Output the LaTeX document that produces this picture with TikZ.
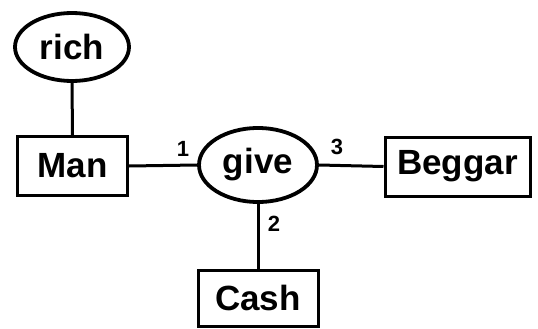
\documentclass[tikz,border=0pt]{standalone}
\usepackage{fontspec}
\setmainfont{Liberation Sans}
\usetikzlibrary{shapes.geometric}
\begin{document}
\begin{tikzpicture}[x=1pt,y=-1pt,
  concept/.style={draw,line width=3pt,inner sep=0pt,font=\fontsize{35}{38}\selectfont\bfseries},
  entity/.style={concept,rectangle},
  relation/.style={concept,ellipse,line width=3.8pt},
  link/.style={line width=3pt},
  num/.style={inner sep=0pt,font=\fontsize{22}{24}\selectfont\bfseries}]
\useasboundingbox (0,0) rectangle (538,329);
\node[relation,minimum width=114,minimum height=68] (rich) at (72,47) {rich};
\node[entity,minimum width=110,minimum height=59] (man) at (72.5,166) {Man};
\node[relation,minimum width=118,minimum height=74] (give) at (258,165) {give};
\node[entity,minimum width=145,minimum height=59] (beggar) at (457.5,166.5) {Beggar};
\node[entity,minimum width=120,minimum height=56] (cash) at (258,298) {Cash};
\draw[link] (rich.south) -- (man.north);
\draw[link] (man.east) -- (give.west);
\draw[link] (give.east) -- (beggar.west);
\draw[link] (give.south) -- (cash.north);
\node[num] (n1) at (183,149) {1};
\node[num] (n3) at (337,147) {3};
\node[num] (n2) at (274,224) {2};
\end{tikzpicture}
\end{document}
